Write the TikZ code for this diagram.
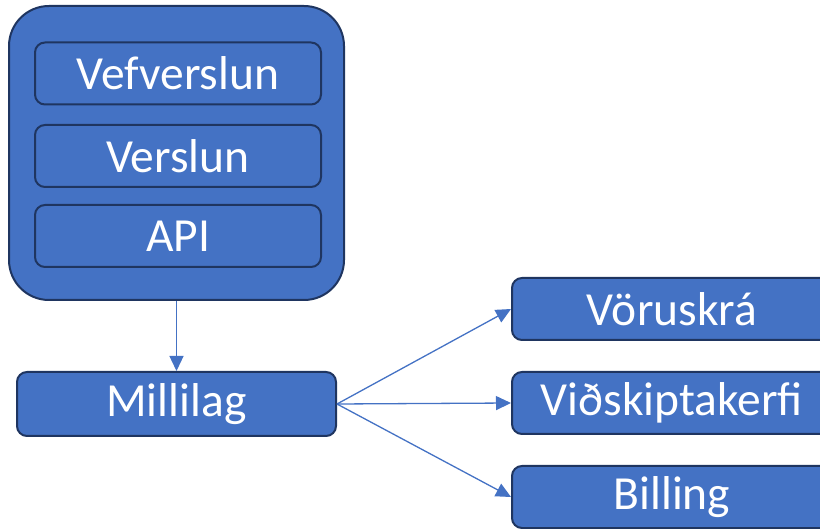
\documentclass[tikz,border=0pt]{standalone}
\usepackage{fontspec}
\setmainfont{Carlito}
\usetikzlibrary{arrows.meta}
\definecolor{boxfill}{HTML}{4472C4}
\definecolor{boxline}{HTML}{1F3560}
\tikzset{
  box/.style={draw=boxline, line width=2pt, fill=boxfill, rounded corners=10pt,
    text=white, font=\fontsize{47.5}{50}\selectfont, inner sep=0pt, align=center},
  outerbox/.style={draw=boxline, line width=2pt, fill=boxfill, rounded corners=40pt, inner sep=0pt},
  conn/.style={draw=boxfill, line width=1.3pt, -{Triangle[length=15pt,width=14pt]}}
}
\begin{document}
\begin{tikzpicture}[x=1pt,y=-1pt]
\useasboundingbox (0,0) rectangle (820,529);
\clip (0,0) rectangle (820,529);
\node[outerbox, minimum width=335pt, minimum height=294pt] (outer) at (176.5,153) {};
\node[box, minimum width=286pt, minimum height=62pt] (vef) at (178,73.5) {Vefverslun};
\node[box, minimum width=286pt, minimum height=62pt] (ver) at (178,156) {Verslun};
\node[box, minimum width=286pt, minimum height=62pt] (api) at (178,236) {API};
\node[box, minimum width=319pt, minimum height=64pt] (mid) at (176.5,404) {Millilag};
\node[box, minimum width=320pt, minimum height=62pt] (vor) at (672,309) {Vöruskrá};
\node[box, minimum width=320pt, minimum height=62pt] (vid) at (672,403) {Viðskiptakerfi};
\node[box, minimum width=320pt, minimum height=62pt] (bil) at (672,497) {Billing};
\draw[conn] (outer.south -| mid.north) -- (mid.north);
\draw[conn] (mid.east) -- (vor.west);
\draw[conn] (mid.east) -- (vid.west);
\draw[conn] (mid.east) -- (bil.west);
\end{tikzpicture}
\end{document}
